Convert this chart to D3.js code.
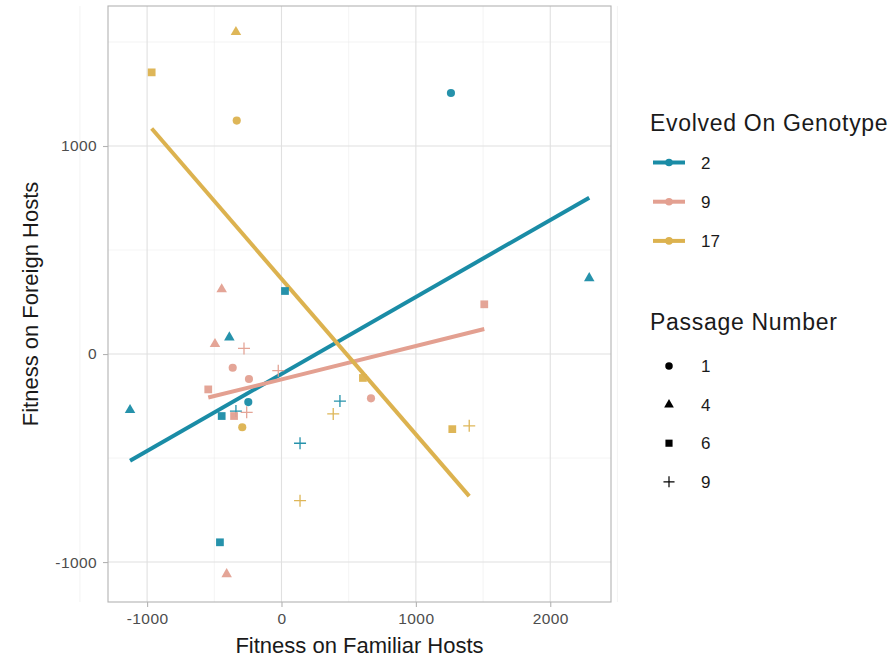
<!DOCTYPE html>
<html>
<head>
<meta charset="utf-8">
<script src="https://cdn.jsdelivr.net/npm/d3@7"></script>
<style>
  body { margin: 0; background: #fff; }
  text { font-family: "Liberation Sans", Arial, sans-serif; }
</style>
</head>
<body>
<svg id="chart" width="894" height="661"></svg>
<script>
const genotypes = ["2", "9", "17"];
const passages = ["1", "4", "6", "9"];
const colors = ["#1a8ca6", "#e3a091", "#dcb24f"];

// one entry per replicate: genotype, passage, familiar fitness, foreign fitness
const pointGenotype = [
    "2", "2", "2", "2", "2", "2", "2", "2", "2", "2", "2",
    "9", "9", "9", "9", "9", "9", "9", "9", "9", "9", "9", "9",
    "17", "17", "17", "17", "17", "17", "17", "17", "17", "17"
];
const pointPassage = [
    "1", "4", "6", "4", "4", "1", "6", "9", "9", "9", "6",
    "4", "6", "4", "9", "1", "1", "6", "9", "6", "9", "1", "4",
    "4", "6", "1", "1", "9", "9", "6", "6", "9"
];
const familiar = [
    1261, 2290, 26, -388, -1127, -247, -445, -339, 138, 435, -458,
    -445, 1509, -495, -279, -363, -242, -545, -24, -353, -259, 666, -408,
    -339, -966, -333, -292, 385, 138, 606, 1271, 1397
];
const foreign = [
    1255, 365, 303, 80, -269, -231, -298, -274, -429, -226, -905,
    311, 239, 48, 27, -66, -120, -170, -80, -298, -280, -213, -1058,
    1548, 1354, 1122, -352, -288, -705, -115, -361, -345
];
const xTicks = [-1000, 0, 1000, 2000];
const yTicks = [-1000, 0, 1000];

const points = familiar.map((x, i) => ({
    g: pointGenotype[i], p: pointPassage[i], x: x, y: foreign[i]
}));

const svg = d3.select("#chart");
const margin = { left: 108, top: 6, right: 611, bottom: 602 };

const x = d3.scaleLinear().domain([-1291, 2452]).range([margin.left, margin.right]);
const y = d3.scaleLinear().domain([-1192, 1673]).range([margin.bottom, margin.top]);
const color = d3.scaleOrdinal().domain(genotypes).range(colors);

// grid
const grid = svg.append("g");
grid.selectAll(".minor-x")
    .data(d3.range(-1500, 2501, 500).filter(v => v % 1000 != 0))
    .enter().append("line")
    .attr("x1", d => x(d)).attr("x2", d => x(d))
    .attr("y1", margin.top).attr("y2", margin.bottom)
    .attr("stroke", "#ededed").attr("stroke-width", 0.6);
grid.selectAll(".minor-y")
    .data([-500, 500, 1500])
    .enter().append("line")
    .attr("x1", margin.left).attr("x2", margin.right)
    .attr("y1", d => y(d)).attr("y2", d => y(d))
    .attr("stroke", "#ededed").attr("stroke-width", 0.6);
grid.selectAll(".major-x")
    .data(xTicks)
    .enter().append("line")
    .attr("x1", d => x(d)).attr("x2", d => x(d))
    .attr("y1", margin.top).attr("y2", margin.bottom)
    .attr("stroke", "#e0e0e0").attr("stroke-width", 1.1);
grid.selectAll(".major-y")
    .data(yTicks)
    .enter().append("line")
    .attr("x1", margin.left).attr("x2", margin.right)
    .attr("y1", d => y(d)).attr("y2", d => y(d))
    .attr("stroke", "#e0e0e0").attr("stroke-width", 1.1);

// regression lines per genotype
genotypes.forEach(g => {
    const pts = points.filter(d => d.g == g);
    const mx = d3.mean(pts, d => d.x);
    const my = d3.mean(pts, d => d.y);
    const slope = d3.sum(pts, d => (d.x - mx) * (d.y - my)) / d3.sum(pts, d => (d.x - mx) ** 2);
    const [x0, x1] = d3.extent(pts, d => d.x);
    svg.append("line")
        .attr("x1", x(x0)).attr("y1", y(my + slope * (x0 - mx)))
        .attr("x2", x(x1)).attr("y2", y(my + slope * (x1 - mx)))
        .attr("stroke", color(g))
        .attr("stroke-width", 4);
});

// point shapes
function shapePath(p, s) {
    if (p == "1") return d3.symbol(d3.symbolCircle, 52 * s)();
    if (p == "4") return d3.symbol(d3.symbolTriangle, 48 * s)();
    if (p == "6") return d3.symbol(d3.symbolSquare, 60 * s)();
    const h = 6 * Math.sqrt(s);
    return `M${-h},0H${h}M0,${-h}V${h}`;
}

svg.append("g").selectAll("path")
    .data(points)
    .enter().append("path")
    .attr("transform", d => `translate(${x(d.x)},${y(d.y)})`)
    .attr("d", d => shapePath(d.p, 1))
    .attr("fill", d => d.p == "9" ? "none" : color(d.g))
    .attr("stroke", d => d.p == "9" ? color(d.g) : "none")
    .attr("stroke-width", 1.3)
    .attr("opacity", 0.95);

// panel border
svg.append("rect")
    .attr("x", margin.left).attr("y", margin.top)
    .attr("width", margin.right - margin.left)
    .attr("height", margin.bottom - margin.top)
    .attr("fill", "none")
    .attr("stroke", "#b3b3b3")
    .attr("stroke-width", 1.1);

// axes
const xAxis = svg.append("g")
    .attr("transform", `translate(0,${margin.bottom})`)
    .call(d3.axisBottom(x).tickValues(xTicks).tickSize(5).tickPadding(6).tickFormat(d => d));
const yAxis = svg.append("g")
    .attr("transform", `translate(${margin.left},0)`)
    .call(d3.axisLeft(y).tickValues(yTicks).tickSize(5).tickPadding(6).tickFormat(d => d));
[xAxis, yAxis].forEach(a => {
    a.select(".domain").remove();
    a.selectAll(".tick line").attr("stroke", "#b3b3b3").attr("stroke-width", 1.1);
    a.selectAll(".tick text")
        .attr("fill", "#4d4d4d")
        .style("font-size", "15.5px")
        .style("letter-spacing", "0.4px")
        .style("font-family", "'Liberation Sans', Arial, sans-serif");
});

svg.append("text")
    .attr("x", (margin.left + margin.right) / 2)
    .attr("y", 653)
    .attr("text-anchor", "middle")
    .style("font-size", "22px")
    .attr("fill", "#1a1a1a")
    .text("Fitness on Familiar Hosts");

svg.append("text")
    .attr("transform", `translate(38,${(margin.top + margin.bottom) / 2}) rotate(-90)`)
    .attr("text-anchor", "middle")
    .style("font-size", "22px")
    .attr("fill", "#1a1a1a")
    .text("Fitness on Foreign Hosts");

// legends
const legend = svg.append("g").attr("transform", "translate(650,0)");
legend.append("text")
    .attr("x", 0).attr("y", 131)
    .style("font-size", "23px").style("letter-spacing", "0.7px")
    .attr("fill", "#1a1a1a")
    .text("Evolved On Genotype");

const gItems = legend.selectAll(".gitem")
    .data(genotypes)
    .enter().append("g")
    .attr("transform", (d, i) => `translate(0,${162.5 + i * 39.2})`);
gItems.append("line")
    .attr("x1", 3).attr("x2", 35)
    .attr("stroke", d => color(d)).attr("stroke-width", 4);
gItems.append("circle")
    .attr("cx", 19).attr("r", 3.8).attr("fill", d => color(d));
gItems.append("text")
    .attr("x", 51).attr("y", 6)
    .style("font-size", "17px")
    .attr("fill", "#1a1a1a")
    .text(d => d);

legend.append("text")
    .attr("x", 0).attr("y", 330)
    .style("font-size", "23px").style("letter-spacing", "0.7px")
    .attr("fill", "#1a1a1a")
    .text("Passage Number");

const pItems = legend.selectAll(".pitem")
    .data(passages)
    .enter().append("g")
    .attr("transform", (d, i) => `translate(0,${366 + i * 38.6})`);
pItems.append("path")
    .attr("transform", "translate(19,0)")
    .attr("d", d => shapePath(d, 0.85))
    .attr("fill", d => d == "9" ? "none" : "#000")
    .attr("stroke", d => d == "9" ? "#000" : "none")
    .attr("stroke-width", 1.2);
pItems.append("text")
    .attr("x", 51).attr("y", 6)
    .style("font-size", "17px")
    .attr("fill", "#1a1a1a")
    .text(d => d);
</script>
</body>
</html>
